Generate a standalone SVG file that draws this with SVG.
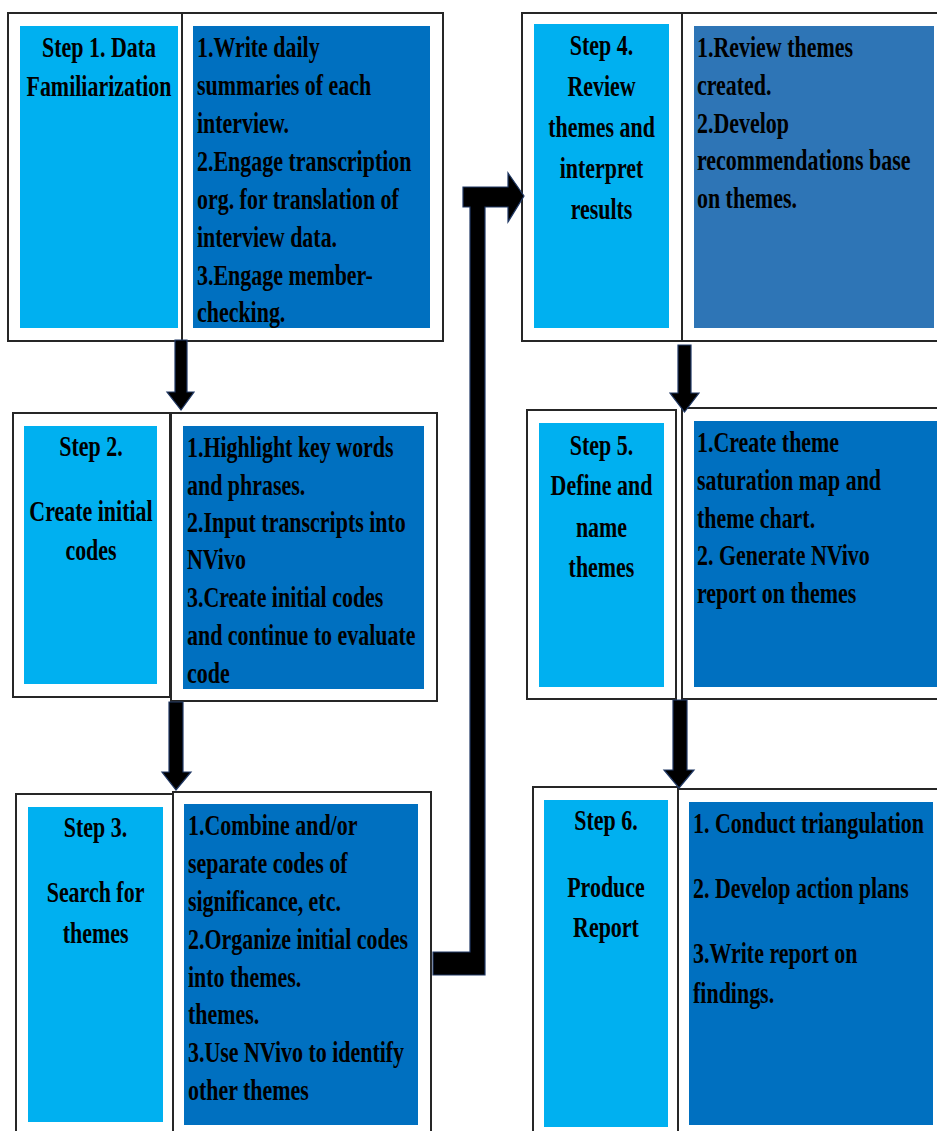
<svg xmlns="http://www.w3.org/2000/svg" width="937" height="1131" viewBox="0 0 937 1131">
<style>
.box{fill:#fff;stroke:#262626;stroke-width:2}
.lb{fill:#00B0F0}
.db{fill:#0070C0}
.db4{fill:#2E75B6}
.arrow{fill:#000;stroke:#203864;stroke-width:1.2;stroke-linejoin:miter}
text{font-family:"Liberation Serif","Times New Roman",serif;font-size:29px;font-weight:bold;fill:#000}
.c{text-anchor:middle}
</style>
<rect width="937" height="1131" fill="#fff"/>
<g id="step1">
<rect class="box" x="8" y="13" width="435" height="328"/>
<line x1="182" y1="13" x2="182" y2="341" stroke="#262626" stroke-width="2"/>
<rect class="lb" x="20" y="26" width="158" height="302"/>
<rect class="db" x="193" y="26" width="237" height="302"/>
<g transform="scale(0.757 1)">
<text class="c" x="130.8" y="57">Step 1. Data</text>
<text class="c" x="130.8" y="96">Familiarization</text>
<text x="260.2" y="57">1.Write daily</text>
<text x="260.2" y="95">summaries of each</text>
<text x="260.2" y="133">interview.</text>
<text x="260.2" y="171">2.Engage transcription</text>
<text x="260.2" y="209">org. for translation of</text>
<text x="260.2" y="247">interview data.</text>
<text x="260.2" y="285">3.Engage member-</text>
<text x="260.2" y="322">checking.</text>
</g>
</g>
<g id="step2">
<rect class="box" x="13" y="413" width="157" height="284"/>
<rect class="box" x="171" y="413" width="266" height="288"/>
<rect class="lb" x="24" y="426" width="133" height="258"/>
<rect class="db" x="183" y="426" width="241" height="263"/>
<g transform="scale(0.757 1)">
<text class="c" x="120.2" y="456">Step 2.</text>
<text class="c" x="120.2" y="521">Create initial</text>
<text class="c" x="120.2" y="560">codes</text>
<text x="247" y="457">1.Highlight key words</text>
<text x="247" y="495">and phrases.</text>
<text x="247" y="532">2.Input transcripts into</text>
<text x="247" y="569">NVivo</text>
<text x="247" y="607">3.Create initial codes</text>
<text x="247" y="645">and continue to evaluate</text>
<text x="247" y="683">code</text>
</g>
</g>
<g id="step3">
<rect class="box" x="16" y="794" width="157" height="350"/>
<rect class="box" x="173" y="792" width="258" height="352"/>
<rect class="lb" x="28" y="807" width="135" height="315"/>
<rect class="db" x="184" y="804" width="234" height="321"/>
<g transform="scale(0.757 1)">
<text class="c" x="126.2" y="837">Step 3.</text>
<text class="c" x="126.2" y="902">Search for</text>
<text class="c" x="126.2" y="943">themes</text>
<text x="248.3" y="835">1.Combine and/or</text>
<text x="248.3" y="873">separate codes of</text>
<text x="248.3" y="911">significance, etc.</text>
<text x="248.3" y="949">2.Organize initial codes</text>
<text x="248.3" y="987">into themes.</text>
<text x="248.3" y="1024">themes.</text>
<text x="248.3" y="1062">3.Use NVivo to identify</text>
<text x="248.3" y="1100">other themes</text>
</g>
</g>
<g id="step4">
<rect class="box" x="522" y="13" width="160" height="328"/>
<rect class="box" x="682" y="13" width="260" height="328"/>
<rect class="lb" x="534" y="24" width="135" height="304"/>
<rect class="db4" x="694" y="26" width="240" height="302"/>
<g transform="scale(0.757 1)">
<text class="c" x="794.6" y="55">Step 4.</text>
<text class="c" x="794.6" y="96">Review</text>
<text class="c" x="794.6" y="137">themes and</text>
<text class="c" x="794.6" y="178">interpret</text>
<text class="c" x="794.6" y="219">results</text>
<text x="920.7" y="57">1.Review themes</text>
<text x="920.7" y="95">created.</text>
<text x="920.7" y="133">2.Develop</text>
<text x="920.7" y="170">recommendations base</text>
<text x="920.7" y="208">on themes.</text>
</g>
</g>
<g id="step5">
<rect class="box" x="527" y="410" width="149" height="289"/>
<rect class="box" x="682" y="408" width="260" height="291"/>
<rect class="lb" x="539" y="423" width="125" height="264"/>
<rect class="db" x="694" y="421" width="246" height="266"/>
<g transform="scale(0.757 1)">
<text class="c" x="794.6" y="455">Step 5.</text>
<text class="c" x="794.6" y="495">Define and</text>
<text class="c" x="794.6" y="537">name</text>
<text class="c" x="794.6" y="577">themes</text>
<text x="920.7" y="452">1.Create theme</text>
<text x="920.7" y="490">saturation map and</text>
<text x="920.7" y="528">theme chart.</text>
<text x="920.7" y="565">2. Generate NVivo</text>
<text x="920.7" y="603">report on themes</text>
</g>
</g>
<g id="step6">
<rect class="box" x="533" y="787" width="145" height="360"/>
<rect class="box" x="678" y="789" width="264" height="358"/>
<rect class="lb" x="544" y="800" width="124" height="327"/>
<rect class="db" x="689" y="802" width="244" height="323"/>
<g transform="scale(0.757 1)">
<text class="c" x="800.5" y="830">Step 6.</text>
<text class="c" x="800.5" y="897">Produce</text>
<text class="c" x="800.5" y="937">Report</text>
<text x="915.5" y="833">1. Conduct triangulation</text>
<text x="915.5" y="898">2. Develop action plans</text>
<text x="915.5" y="963">3.Write report on</text>
<text x="915.5" y="1003">findings.</text>
</g>
</g>
<g id="connectors">
<path class="arrow" d="M175,340 H187 V392 H194 L181,410 L167,392 H175 Z"/>
<path class="arrow" d="M169,702 H183 V772 H191 L176,790 L162,772 H169 Z"/>
<path class="arrow" d="M678,345 H691 V393 H699 L684.5,412 L670,393 H678 Z"/>
<path class="arrow" d="M673,700 H687 V770 H694 L679,788 L664,770 H673 Z"/>
<path class="arrow" d="M433,952 H470 V207 H463 V187 H508 V173 L524,196 L508,222 V207 H485 V975 H433 Z"/>
</g>
</svg>
